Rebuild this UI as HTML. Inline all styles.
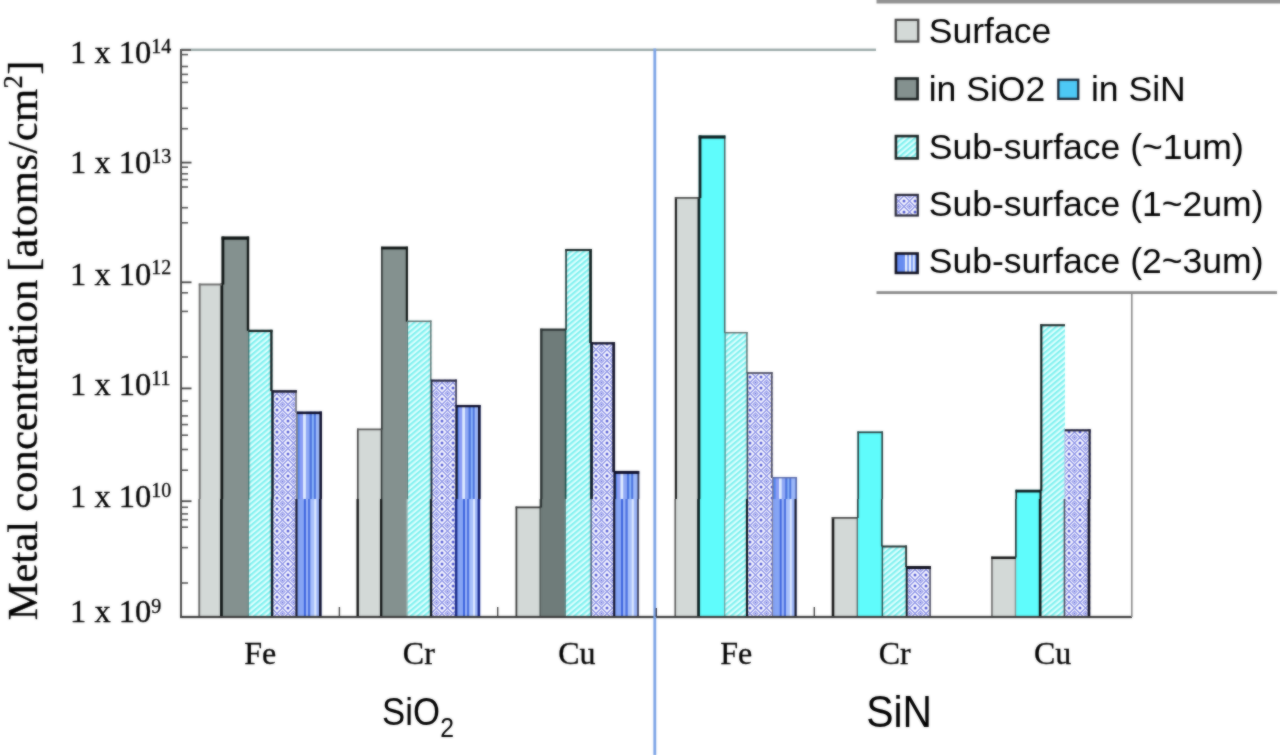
<!DOCTYPE html>
<html><head><meta charset="utf-8"><title>chart</title>
<style>
html,body{margin:0;padding:0;background:#fff;}
body{width:1280px;height:755px;overflow:hidden;font-family:"Liberation Sans",sans-serif;}
svg{display:block}
.ser{font-family:"Liberation Serif",serif;fill:#000;stroke:#000;stroke-width:0.3px;}
.san{font-family:"Liberation Sans",sans-serif;fill:#000;}
</style></head><body>
<svg width="1280" height="755" viewBox="0 0 1280 755">
<defs>
<pattern id="ph" width="4.2" height="4.2" patternUnits="userSpaceOnUse" patternTransform="rotate(-40)">
<rect width="4.2" height="4.2" fill="#e0ffff"/><rect width="4.2" height="2.1" fill="#7cf0ee"/></pattern>
<pattern id="pc" width="11" height="11" patternUnits="userSpaceOnUse" x="2" y="3">
<rect width="11" height="11" fill="#f7f7ff"/>
<path d="M0 5.5 L5.5 0 L11 5.5 L5.5 11 Z" fill="none" stroke="#8f96e8" stroke-width="1.3"/>
<path d="M3 5.5 L5.5 3 L8 5.5 L5.5 8 Z" fill="none" stroke="#a0a6ee" stroke-width="1.1"/>
<circle cx="0" cy="0" r="1.5" fill="#5058d4"/><circle cx="11" cy="0" r="1.5" fill="#5058d4"/><circle cx="0" cy="11" r="1.5" fill="#5058d4"/><circle cx="11" cy="11" r="1.5" fill="#5058d4"/>
<circle cx="5.5" cy="5.5" r="1" fill="#7078de"/>
</pattern>
<linearGradient id="ps" x1="0" x2="1" y1="0" y2="0">
<stop offset="0" stop-color="#5588ee"/><stop offset="0.09" stop-color="#5588ee"/>
<stop offset="0.13" stop-color="#8a9cf5"/><stop offset="0.23" stop-color="#8a9cf5"/>
<stop offset="0.27" stop-color="#e0ecff"/><stop offset="0.34" stop-color="#e0ecff"/>
<stop offset="0.38" stop-color="#8fa8f5"/><stop offset="0.49" stop-color="#8fa8f5"/>
<stop offset="0.53" stop-color="#4a72dd"/><stop offset="0.58" stop-color="#4a72dd"/>
<stop offset="0.62" stop-color="#8bb5fa"/><stop offset="0.66" stop-color="#8bb5fa"/>
<stop offset="0.70" stop-color="#4a72dd"/><stop offset="0.74" stop-color="#4a72dd"/>
<stop offset="0.78" stop-color="#9db8f8"/><stop offset="0.91" stop-color="#9db8f8"/>
<stop offset="0.95" stop-color="#5580e8"/><stop offset="1" stop-color="#5580e8"/>
</linearGradient>
<linearGradient id="ps3" x1="0" x2="1" y1="0" y2="0">
<stop offset="0" stop-color="#6288f0"/><stop offset="0.40" stop-color="#6a8ef0"/>
<stop offset="0.44" stop-color="#e8f0ff"/><stop offset="0.50" stop-color="#e8f0ff"/>
<stop offset="0.54" stop-color="#7a9af2"/><stop offset="0.58" stop-color="#7a9af2"/>
<stop offset="0.62" stop-color="#e8f0ff"/><stop offset="0.68" stop-color="#e8f0ff"/>
<stop offset="0.72" stop-color="#7a9af2"/><stop offset="0.76" stop-color="#7a9af2"/>
<stop offset="0.80" stop-color="#dce8ff"/><stop offset="0.85" stop-color="#dce8ff"/>
<stop offset="0.89" stop-color="#6a8ef0"/><stop offset="1" stop-color="#6a8ef0"/>
</linearGradient>
<linearGradient id="ps2" x1="0" x2="1" y1="0" y2="0">
<stop offset="0" stop-color="#7f9ff2"/><stop offset="0.28" stop-color="#8aa8f5"/>
<stop offset="0.31" stop-color="#3a62dd"/><stop offset="0.36" stop-color="#3a62dd"/>
<stop offset="0.39" stop-color="#9ab4f8"/><stop offset="0.45" stop-color="#9ab4f8"/>
<stop offset="0.48" stop-color="#4a70e0"/><stop offset="0.54" stop-color="#4a70e0"/>
<stop offset="0.57" stop-color="#a8c0fa"/><stop offset="0.70" stop-color="#a8c0fa"/>
<stop offset="0.73" stop-color="#dce8ff"/><stop offset="0.78" stop-color="#dce8ff"/>
<stop offset="0.81" stop-color="#a0b8f8"/><stop offset="1" stop-color="#90acf6"/>
</linearGradient>
<filter id="bl" x="0" y="0" width="1280" height="755" filterUnits="userSpaceOnUse" color-interpolation-filters="sRGB"><feGaussianBlur stdDeviation="0.9" result="b"/><feComposite in="b" in2="SourceGraphic" operator="arithmetic" k1="0" k2="0.55" k3="0.45" k4="0"/></filter>
<clipPath id="cu"><rect x="0" y="0" width="1280" height="499"/></clipPath>
<clipPath id="cl"><rect x="0" y="499" width="1280" height="118.5"/></clipPath>
</defs>
<g filter="url(#bl)">
<rect width="1280" height="755" fill="#ffffff"/>

<rect x="181" y="48.6" width="695" height="2.4" fill="#9aa9a8"/>
<g clip-path="url(#cu)"><rect x="198.80" y="283.60" width="23.20" height="333.40" fill="#d3d9d7"/>
<rect x="221.60" y="236.60" width="27.50" height="380.40" fill="#84918f"/>
<rect x="248.40" y="329.80" width="24.10" height="287.20" fill="url(#ph)"/>
<rect x="272.40" y="390.20" width="24.50" height="226.80" fill="url(#pc)"/>
<rect x="296.80" y="411.60" width="25.10" height="205.40" fill="url(#ps)"/>
<rect x="357.00" y="428.60" width="25.00" height="188.40" fill="#d3d9d7"/>
<rect x="381.10" y="246.70" width="26.80" height="370.30" fill="#84918f"/>
<rect x="407.20" y="320.60" width="24.30" height="296.40" fill="url(#ph)"/>
<rect x="431.40" y="379.60" width="25.40" height="237.40" fill="url(#pc)"/>
<rect x="456.20" y="405.00" width="24.30" height="212.00" fill="url(#ps)"/>
<rect x="516.00" y="506.60" width="25.00" height="110.40" fill="#d3d9d7"/>
<rect x="540.20" y="328.70" width="25.80" height="288.30" fill="#6f7c7a"/>
<rect x="565.30" y="249.00" width="26.50" height="368.00" fill="url(#ph)"/>
<rect x="591.20" y="342.20" width="23.80" height="274.80" fill="url(#pc)"/>
<rect x="614.20" y="471.00" width="25.00" height="146.00" fill="url(#ps)"/>
<rect x="674.90" y="197.10" width="24.30" height="419.90" fill="#d3d9d7"/>
<rect x="698.70" y="135.50" width="26.70" height="481.50" fill="#5ffcfc"/>
<rect x="724.80" y="332.00" width="22.80" height="285.00" fill="url(#ph)"/>
<rect x="747.20" y="372.20" width="25.40" height="244.80" fill="url(#pc)"/>
<rect x="773.00" y="477.00" width="24.00" height="140.00" fill="url(#ps)"/>
<rect x="832.20" y="517.00" width="25.80" height="100.00" fill="#d3d9d7"/>
<rect x="857.40" y="431.50" width="25.60" height="185.50" fill="#5ffcfc"/>
<rect x="882.50" y="545.60" width="24.90" height="71.40" fill="url(#ph)"/>
<rect x="906.80" y="566.00" width="24.50" height="51.00" fill="url(#pc)"/>
<rect x="991.60" y="556.60" width="24.60" height="60.40" fill="#d3d9d7"/>
<rect x="1015.50" y="489.80" width="25.30" height="127.20" fill="#5ffcfc"/>
<rect x="1040.30" y="324.20" width="24.70" height="292.80" fill="url(#ph)"/>
<rect x="1064.70" y="429.30" width="25.90" height="187.70" fill="url(#pc)"/>
<path d="M199.70 283.60L199.70 617.00" stroke="#707070" stroke-width="1.91" fill="none"/>
<path d="M221.80 283.60L221.80 617.00" stroke="#0e1413" stroke-width="2.76" fill="none"/>
<path d="M198.80 284.50L222.00 284.50" stroke="#707070" stroke-width="1.91" fill="none"/>
<path d="M222.90 236.60L222.90 284.60" stroke="#0e1413" stroke-width="2.76" fill="none"/>
<path d="M248.00 236.60L248.00 330.80" stroke="#0e1413" stroke-width="2.33" fill="none"/>
<path d="M248.75 329.80L248.75 617.00" stroke="#3a6a66" stroke-width="1.27" fill="none"/>
<path d="M221.60 238.10L249.10 238.10" stroke="#0e1413" stroke-width="3.18" fill="none"/>
<path d="M271.40 329.80L271.40 391.20" stroke="#10181a" stroke-width="2.33" fill="none"/>
<path d="M272.45 390.20L272.45 617.00" stroke="#0a1420" stroke-width="2.44" fill="none"/>
<path d="M248.40 330.90L272.50 330.90" stroke="#16201f" stroke-width="2.33" fill="none"/>
<path d="M296.00 390.20L296.00 412.60" stroke="#808088" stroke-width="1.91" fill="none"/>
<path d="M296.85 411.60L296.85 617.00" stroke="#808088" stroke-width="1.91" fill="none"/>
<path d="M272.40 391.40L296.90 391.40" stroke="#1a1a2e" stroke-width="2.54" fill="none"/>
<path d="M320.70 411.60L320.70 617.00" stroke="#0c0c28" stroke-width="2.54" fill="none"/>
<path d="M296.80 412.80L321.90 412.80" stroke="#0c0c28" stroke-width="2.54" fill="none"/>
<path d="M357.80 428.60L357.80 617.00" stroke="#444" stroke-width="1.7" fill="none"/>
<path d="M381.55 428.60L381.55 617.00" stroke="#2a3030" stroke-width="1.59" fill="none"/>
<path d="M357.00 429.40L382.00 429.40" stroke="#5a5a5a" stroke-width="1.7" fill="none"/>
<path d="M381.85 246.70L381.85 429.60" stroke="#2a3030" stroke-width="1.59" fill="none"/>
<path d="M406.90 246.70L406.90 321.60" stroke="#0e1413" stroke-width="2.12" fill="none"/>
<path d="M407.55 320.60L407.55 617.00" stroke="#5a7a78" stroke-width="1.06" fill="none"/>
<path d="M381.10 248.00L407.90 248.00" stroke="#0e1413" stroke-width="2.76" fill="none"/>
<path d="M430.80 320.60L430.80 380.60" stroke="#62706f" stroke-width="1.48" fill="none"/>
<path d="M431.45 379.60L431.45 617.00" stroke="#1a2430" stroke-width="1.91" fill="none"/>
<path d="M407.20 321.30L431.50 321.30" stroke="#62706f" stroke-width="1.48" fill="none"/>
<path d="M456.05 379.60L456.05 406.00" stroke="#30304a" stroke-width="1.59" fill="none"/>
<path d="M456.50 405.00L456.50 617.00" stroke="#101028" stroke-width="2.33" fill="none"/>
<path d="M431.40 380.60L456.80 380.60" stroke="#22223a" stroke-width="2.12" fill="none"/>
<path d="M479.30 405.00L479.30 617.00" stroke="#0c0c28" stroke-width="2.54" fill="none"/>
<path d="M456.20 406.10L480.50 406.10" stroke="#0c0c28" stroke-width="2.33" fill="none"/>
<path d="M516.80 506.60L516.80 617.00" stroke="#383838" stroke-width="1.7" fill="none"/>
<path d="M540.60 506.60L540.60 617.00" stroke="#2a3232" stroke-width="2.33" fill="none"/>
<path d="M516.00 507.40L541.00 507.40" stroke="#383838" stroke-width="1.7" fill="none"/>
<path d="M541.30 328.70L541.30 507.60" stroke="#2a3232" stroke-width="2.33" fill="none"/>
<path d="M565.65 328.70L565.65 617.00" stroke="#1a4a46" stroke-width="1.59" fill="none"/>
<path d="M540.20 329.70L566.00 329.70" stroke="#2a3232" stroke-width="2.12" fill="none"/>
<path d="M566.05 249.00L566.05 329.70" stroke="#1a3030" stroke-width="1.59" fill="none"/>
<path d="M590.55 249.00L590.55 343.20" stroke="#0a1616" stroke-width="2.65" fill="none"/>
<path d="M591.50 342.20L591.50 617.00" stroke="#0a1420" stroke-width="2.76" fill="none"/>
<path d="M565.30 250.00L591.80 250.00" stroke="#1a2626" stroke-width="2.12" fill="none"/>
<path d="M613.70 342.20L613.70 472.00" stroke="#14142a" stroke-width="2.76" fill="none"/>
<path d="M614.60 471.00L614.60 617.00" stroke="#101028" stroke-width="2.33" fill="none"/>
<path d="M591.20 343.30L615.00 343.30" stroke="#14142a" stroke-width="2.33" fill="none"/>
<path d="M638.40 471.00L638.40 617.00" stroke="#3a3a50" stroke-width="1.7" fill="none"/>
<path d="M614.20 472.40L639.20 472.40" stroke="#0c0c28" stroke-width="2.97" fill="none"/>
<path d="M675.90 197.10L675.90 617.00" stroke="#181818" stroke-width="2.12" fill="none"/>
<path d="M698.95 197.10L698.95 617.00" stroke="#0c1c1e" stroke-width="2.76" fill="none"/>
<path d="M674.90 197.90L699.20 197.90" stroke="#4a4a4a" stroke-width="1.7" fill="none"/>
<path d="M700.00 135.50L700.00 198.10" stroke="#0c1c1e" stroke-width="2.76" fill="none"/>
<path d="M724.70 135.50L724.70 333.00" stroke="#4a6264" stroke-width="1.48" fill="none"/>
<path d="M725.10 332.00L725.10 617.00" stroke="#4a8a8a" stroke-width="1.27" fill="none"/>
<path d="M698.70 137.00L725.40 137.00" stroke="#0c1c1e" stroke-width="3.18" fill="none"/>
<path d="M746.90 332.00L746.90 373.20" stroke="#62706f" stroke-width="1.48" fill="none"/>
<path d="M747.40 372.20L747.40 617.00" stroke="#3a4452" stroke-width="1.59" fill="none"/>
<path d="M724.80 332.70L747.60 332.70" stroke="#62706f" stroke-width="1.48" fill="none"/>
<path d="M771.80 372.20L771.80 478.00" stroke="#4a4a5a" stroke-width="1.7" fill="none"/>
<path d="M772.80 477.00L772.80 617.00" stroke="#6a6a8a" stroke-width="1.27" fill="none"/>
<path d="M747.20 373.00L772.60 373.00" stroke="#4a4a5a" stroke-width="1.7" fill="none"/>
<path d="M796.30 477.00L796.30 617.00" stroke="#5a6aa8" stroke-width="1.48" fill="none"/>
<path d="M773.00 477.70L797.00 477.70" stroke="#5a6aa8" stroke-width="1.48" fill="none"/>
<path d="M833.40 517.00L833.40 617.00" stroke="#141414" stroke-width="2.54" fill="none"/>
<path d="M857.70 517.00L857.70 617.00" stroke="#5a6a6a" stroke-width="1.38" fill="none"/>
<path d="M832.20 517.90L858.00 517.90" stroke="#4a4a4a" stroke-width="1.91" fill="none"/>
<path d="M858.20 431.50L858.20 518.00" stroke="#2a3e40" stroke-width="1.7" fill="none"/>
<path d="M882.20 431.50L882.20 546.60" stroke="#2a3e40" stroke-width="1.7" fill="none"/>
<path d="M882.75 545.60L882.75 617.00" stroke="#2a4a4a" stroke-width="1.48" fill="none"/>
<path d="M857.40 432.30L883.00 432.30" stroke="#2a3e40" stroke-width="1.7" fill="none"/>
<path d="M906.50 545.60L906.50 567.00" stroke="#26302f" stroke-width="1.91" fill="none"/>
<path d="M907.10 566.00L907.10 617.00" stroke="#10141c" stroke-width="1.91" fill="none"/>
<path d="M882.50 546.50L907.40 546.50" stroke="#2a3434" stroke-width="1.91" fill="none"/>
<path d="M930.50 566.00L930.50 617.00" stroke="#5a5a6a" stroke-width="1.7" fill="none"/>
<path d="M906.80 567.40L931.30 567.40" stroke="#10101e" stroke-width="2.97" fill="none"/>
<path d="M992.35 556.60L992.35 617.00" stroke="#6a6a6a" stroke-width="1.59" fill="none"/>
<path d="M1015.85 556.60L1015.85 617.00" stroke="#8a9090" stroke-width="1.38" fill="none"/>
<path d="M991.60 557.80L1016.20 557.80" stroke="#141414" stroke-width="2.54" fill="none"/>
<path d="M1016.25 489.80L1016.25 557.60" stroke="#1c2c2e" stroke-width="1.59" fill="none"/>
<path d="M1040.55 489.80L1040.55 617.00" stroke="#0c1414" stroke-width="2.12" fill="none"/>
<path d="M1015.50 491.10L1040.80 491.10" stroke="#0c1c1e" stroke-width="2.76" fill="none"/>
<path d="M1041.30 324.20L1041.30 490.80" stroke="#0c1414" stroke-width="2.12" fill="none"/>
<path d="M1064.85 429.30L1064.85 617.00" stroke="#b0c0e0" stroke-width="0.85" fill="none"/>
<path d="M1040.30 325.20L1065.00 325.20" stroke="#222c2c" stroke-width="2.12" fill="none"/>
<path d="M1089.60 429.30L1089.60 617.00" stroke="#16162a" stroke-width="2.12" fill="none"/>
<path d="M1064.70 430.30L1090.60 430.30" stroke="#1c1c30" stroke-width="2.12" fill="none"/></g>
<g clip-path="url(#cl)"><rect x="198.40" y="283.60" width="23.20" height="333.40" fill="#d3d9d7"/>
<rect x="221.20" y="236.60" width="27.50" height="380.40" fill="#84918f"/>
<rect x="248.00" y="329.80" width="24.10" height="287.20" fill="url(#ph)"/>
<rect x="272.00" y="390.20" width="24.50" height="226.80" fill="url(#pc)"/>
<rect x="296.40" y="411.60" width="25.10" height="205.40" fill="url(#ps2)"/>
<rect x="356.60" y="428.60" width="25.00" height="188.40" fill="#d3d9d7"/>
<rect x="380.70" y="246.70" width="26.80" height="370.30" fill="#84918f"/>
<rect x="406.80" y="320.60" width="24.30" height="296.40" fill="url(#ph)"/>
<rect x="431.00" y="379.60" width="25.40" height="237.40" fill="url(#pc)"/>
<rect x="455.80" y="405.00" width="24.30" height="212.00" fill="url(#ps2)"/>
<rect x="515.60" y="506.60" width="25.00" height="110.40" fill="#d3d9d7"/>
<rect x="539.80" y="328.70" width="25.80" height="288.30" fill="#6f7c7a"/>
<rect x="564.90" y="249.00" width="26.50" height="368.00" fill="url(#ph)"/>
<rect x="590.80" y="342.20" width="23.80" height="274.80" fill="url(#pc)"/>
<rect x="613.80" y="471.00" width="25.00" height="146.00" fill="url(#ps2)"/>
<rect x="674.50" y="197.10" width="24.30" height="419.90" fill="#d3d9d7"/>
<rect x="698.30" y="135.50" width="26.70" height="481.50" fill="#5ffcfc"/>
<rect x="724.40" y="332.00" width="22.80" height="285.00" fill="url(#ph)"/>
<rect x="746.80" y="372.20" width="25.40" height="244.80" fill="url(#pc)"/>
<rect x="772.60" y="477.00" width="24.00" height="140.00" fill="url(#ps2)"/>
<rect x="831.80" y="517.00" width="25.80" height="100.00" fill="#d3d9d7"/>
<rect x="857.00" y="431.50" width="25.60" height="185.50" fill="#5ffcfc"/>
<rect x="882.10" y="545.60" width="24.90" height="71.40" fill="url(#ph)"/>
<rect x="906.40" y="566.00" width="24.50" height="51.00" fill="url(#pc)"/>
<rect x="991.20" y="556.60" width="24.60" height="60.40" fill="#d3d9d7"/>
<rect x="1015.10" y="489.80" width="25.30" height="127.20" fill="#5ffcfc"/>
<rect x="1039.90" y="324.20" width="24.70" height="292.80" fill="url(#ph)"/>
<rect x="1064.30" y="429.30" width="25.90" height="187.70" fill="url(#pc)"/>
<path d="M199.25 283.60L199.25 617.00" stroke="#666" stroke-width="1.8" fill="none"/>
<path d="M221.40 283.60L221.40 617.00" stroke="#0e1413" stroke-width="2.76" fill="none"/>
<path d="M198.40 284.50L221.60 284.50" stroke="#707070" stroke-width="1.91" fill="none"/>
<path d="M222.50 236.60L222.50 284.60" stroke="#0e1413" stroke-width="2.76" fill="none"/>
<path d="M247.60 236.60L247.60 330.80" stroke="#0e1413" stroke-width="2.33" fill="none"/>
<path d="M248.35 329.80L248.35 617.00" stroke="#5a7a78" stroke-width="1.06" fill="none"/>
<path d="M221.20 238.10L248.70 238.10" stroke="#0e1413" stroke-width="3.18" fill="none"/>
<path d="M271.00 329.80L271.00 391.20" stroke="#10181a" stroke-width="2.33" fill="none"/>
<path d="M272.05 390.20L272.05 617.00" stroke="#0a1420" stroke-width="2.44" fill="none"/>
<path d="M248.00 330.90L272.10 330.90" stroke="#16201f" stroke-width="2.33" fill="none"/>
<path d="M295.60 390.20L295.60 412.60" stroke="#808088" stroke-width="1.91" fill="none"/>
<path d="M296.45 411.60L296.45 617.00" stroke="#15152a" stroke-width="2.12" fill="none"/>
<path d="M272.00 391.40L296.50 391.40" stroke="#1a1a2e" stroke-width="2.54" fill="none"/>
<path d="M320.30 411.60L320.30 617.00" stroke="#0c0c28" stroke-width="2.54" fill="none"/>
<path d="M296.40 412.80L321.50 412.80" stroke="#0c0c28" stroke-width="2.54" fill="none"/>
<path d="M357.70 428.60L357.70 617.00" stroke="#101010" stroke-width="2.33" fill="none"/>
<path d="M381.15 428.60L381.15 617.00" stroke="#101414" stroke-width="2.33" fill="none"/>
<path d="M356.60 429.40L381.60 429.40" stroke="#5a5a5a" stroke-width="1.7" fill="none"/>
<path d="M381.45 246.70L381.45 429.60" stroke="#2a3030" stroke-width="1.59" fill="none"/>
<path d="M406.50 246.70L406.50 321.60" stroke="#0e1413" stroke-width="2.12" fill="none"/>
<path d="M407.15 320.60L407.15 617.00" stroke="#9ab0ae" stroke-width="1.06" fill="none"/>
<path d="M380.70 248.00L407.50 248.00" stroke="#0e1413" stroke-width="2.76" fill="none"/>
<path d="M430.40 320.60L430.40 380.60" stroke="#62706f" stroke-width="1.48" fill="none"/>
<path d="M431.05 379.60L431.05 617.00" stroke="#0a1018" stroke-width="2.33" fill="none"/>
<path d="M406.80 321.30L431.10 321.30" stroke="#62706f" stroke-width="1.48" fill="none"/>
<path d="M455.65 379.60L455.65 406.00" stroke="#30304a" stroke-width="1.59" fill="none"/>
<path d="M456.10 405.00L456.10 617.00" stroke="#1a2a88" stroke-width="2.54" fill="none"/>
<path d="M431.00 380.60L456.40 380.60" stroke="#22223a" stroke-width="2.12" fill="none"/>
<path d="M478.90 405.00L478.90 617.00" stroke="#14248a" stroke-width="2.54" fill="none"/>
<path d="M455.80 406.10L480.10 406.10" stroke="#0c0c28" stroke-width="2.33" fill="none"/>
<path d="M516.40 506.60L516.40 617.00" stroke="#383838" stroke-width="1.7" fill="none"/>
<path d="M540.20 506.60L540.20 617.00" stroke="#4a5452" stroke-width="1.27" fill="none"/>
<path d="M515.60 507.40L540.60 507.40" stroke="#383838" stroke-width="1.7" fill="none"/>
<path d="M540.90 328.70L540.90 507.60" stroke="#2a3232" stroke-width="2.33" fill="none"/>
<path d="M565.25 328.70L565.25 617.00" stroke="#4a6a68" stroke-width="1.06" fill="none"/>
<path d="M539.80 329.70L565.60 329.70" stroke="#2a3232" stroke-width="2.12" fill="none"/>
<path d="M565.65 249.00L565.65 329.70" stroke="#1a3030" stroke-width="1.59" fill="none"/>
<path d="M590.15 249.00L590.15 343.20" stroke="#0a1616" stroke-width="2.65" fill="none"/>
<path d="M591.10 342.20L591.10 617.00" stroke="#3a4a5a" stroke-width="1.27" fill="none"/>
<path d="M564.90 250.00L591.40 250.00" stroke="#1a2626" stroke-width="2.12" fill="none"/>
<path d="M613.30 342.20L613.30 472.00" stroke="#14142a" stroke-width="2.76" fill="none"/>
<path d="M614.20 471.00L614.20 617.00" stroke="#101028" stroke-width="2.12" fill="none"/>
<path d="M590.80 343.30L614.60 343.30" stroke="#14142a" stroke-width="2.33" fill="none"/>
<path d="M638.00 471.00L638.00 617.00" stroke="#3a3a50" stroke-width="1.7" fill="none"/>
<path d="M613.80 472.40L638.80 472.40" stroke="#0c0c28" stroke-width="2.97" fill="none"/>
<path d="M675.25 197.10L675.25 617.00" stroke="#5a5a5a" stroke-width="1.59" fill="none"/>
<path d="M698.55 197.10L698.55 617.00" stroke="#0c1c1e" stroke-width="2.76" fill="none"/>
<path d="M674.50 197.90L698.80 197.90" stroke="#4a4a4a" stroke-width="1.7" fill="none"/>
<path d="M699.60 135.50L699.60 198.10" stroke="#0c1c1e" stroke-width="2.76" fill="none"/>
<path d="M724.30 135.50L724.30 333.00" stroke="#4a6264" stroke-width="1.48" fill="none"/>
<path d="M724.70 332.00L724.70 617.00" stroke="#6a9a9a" stroke-width="1.27" fill="none"/>
<path d="M698.30 137.00L725.00 137.00" stroke="#0c1c1e" stroke-width="3.18" fill="none"/>
<path d="M746.50 332.00L746.50 373.20" stroke="#62706f" stroke-width="1.48" fill="none"/>
<path d="M747.00 372.20L747.00 617.00" stroke="#0a1018" stroke-width="2.12" fill="none"/>
<path d="M724.40 332.70L747.20 332.70" stroke="#62706f" stroke-width="1.48" fill="none"/>
<path d="M771.40 372.20L771.40 478.00" stroke="#4a4a5a" stroke-width="1.7" fill="none"/>
<path d="M772.40 477.00L772.40 617.00" stroke="#7a7a9a" stroke-width="1.27" fill="none"/>
<path d="M746.80 373.00L772.20 373.00" stroke="#4a4a5a" stroke-width="1.7" fill="none"/>
<path d="M795.60 477.00L795.60 617.00" stroke="#101020" stroke-width="2.12" fill="none"/>
<path d="M772.60 477.70L796.60 477.70" stroke="#5a6aa8" stroke-width="1.48" fill="none"/>
<path d="M833.00 517.00L833.00 617.00" stroke="#141414" stroke-width="2.54" fill="none"/>
<path d="M857.30 517.00L857.30 617.00" stroke="#5a6a6a" stroke-width="1.38" fill="none"/>
<path d="M831.80 517.90L857.60 517.90" stroke="#4a4a4a" stroke-width="1.91" fill="none"/>
<path d="M857.80 431.50L857.80 518.00" stroke="#2a3e40" stroke-width="1.7" fill="none"/>
<path d="M881.80 431.50L881.80 546.60" stroke="#2a3e40" stroke-width="1.7" fill="none"/>
<path d="M882.35 545.60L882.35 617.00" stroke="#2a4a4a" stroke-width="1.48" fill="none"/>
<path d="M857.00 432.30L882.60 432.30" stroke="#2a3e40" stroke-width="1.7" fill="none"/>
<path d="M906.10 545.60L906.10 567.00" stroke="#26302f" stroke-width="1.91" fill="none"/>
<path d="M906.70 566.00L906.70 617.00" stroke="#10141c" stroke-width="1.91" fill="none"/>
<path d="M882.10 546.50L907.00 546.50" stroke="#2a3434" stroke-width="1.91" fill="none"/>
<path d="M930.10 566.00L930.10 617.00" stroke="#5a5a6a" stroke-width="1.7" fill="none"/>
<path d="M906.40 567.40L930.90 567.40" stroke="#10101e" stroke-width="2.97" fill="none"/>
<path d="M991.95 556.60L991.95 617.00" stroke="#6a6a6a" stroke-width="1.59" fill="none"/>
<path d="M1015.45 556.60L1015.45 617.00" stroke="#8a9090" stroke-width="1.38" fill="none"/>
<path d="M991.20 557.80L1015.80 557.80" stroke="#141414" stroke-width="2.54" fill="none"/>
<path d="M1015.85 489.80L1015.85 557.60" stroke="#1c2c2e" stroke-width="1.59" fill="none"/>
<path d="M1040.15 489.80L1040.15 617.00" stroke="#0a1212" stroke-width="2.65" fill="none"/>
<path d="M1015.10 491.10L1040.40 491.10" stroke="#0c1c1e" stroke-width="2.76" fill="none"/>
<path d="M1040.90 324.20L1040.90 490.80" stroke="#0c1414" stroke-width="2.12" fill="none"/>
<path d="M1064.45 429.30L1064.45 617.00" stroke="#4a4a5a" stroke-width="1.59" fill="none"/>
<path d="M1039.90 325.20L1064.60 325.20" stroke="#222c2c" stroke-width="2.12" fill="none"/>
<path d="M1088.95 429.30L1088.95 617.00" stroke="#101020" stroke-width="2.65" fill="none"/>
<path d="M1064.30 430.30L1090.20 430.30" stroke="#1c1c30" stroke-width="2.12" fill="none"/></g>
<rect x="180" y="49" width="2" height="569" fill="#4a4a4a"/>
<rect x="180" y="615.9" width="952" height="2.2" fill="#3c3c3c"/>
<rect x="1131" y="293" width="1.6" height="324" fill="#8a8a8a"/>
<rect x="181" y="53.8" width="7" height="1.6" fill="#555"/>
<rect x="181" y="65.7" width="7" height="1.6" fill="#555"/>
<rect x="181" y="73.6" width="7" height="1.6" fill="#555"/>
<rect x="181" y="81.6" width="7" height="1.6" fill="#555"/>
<rect x="181" y="107.5" width="7" height="1.6" fill="#555"/>
<rect x="181" y="127.9" width="7" height="1.6" fill="#555"/>
<rect x="181" y="166.4" width="7" height="1.6" fill="#555"/>
<rect x="181" y="173.0" width="7" height="1.6" fill="#555"/>
<rect x="181" y="178.8" width="7" height="1.6" fill="#555"/>
<rect x="181" y="186.2" width="7" height="1.6" fill="#555"/>
<rect x="181" y="206.9" width="7" height="1.6" fill="#555"/>
<rect x="181" y="222.0" width="7" height="1.6" fill="#555"/>
<rect x="181" y="292.0" width="7" height="1.6" fill="#555"/>
<rect x="181" y="310.6" width="7" height="1.6" fill="#555"/>
<rect x="181" y="356.2" width="7" height="1.6" fill="#555"/>
<rect x="181" y="400.1" width="7" height="1.6" fill="#555"/>
<rect x="181" y="415.1" width="7" height="1.6" fill="#555"/>
<rect x="181" y="423.8" width="7" height="1.6" fill="#555"/>
<rect x="181" y="434.4" width="7" height="1.6" fill="#555"/>
<rect x="181" y="448.7" width="7" height="1.6" fill="#555"/>
<rect x="181" y="469.4" width="7" height="1.6" fill="#555"/>
<rect x="181" y="506.5" width="7" height="1.6" fill="#555"/>
<rect x="181" y="513.1" width="7" height="1.6" fill="#555"/>
<rect x="181" y="518.9" width="7" height="1.6" fill="#555"/>
<rect x="181" y="526.4" width="7" height="1.6" fill="#555"/>
<rect x="181" y="546.8" width="7" height="1.6" fill="#555"/>
<rect x="181" y="582.2" width="7" height="1.6" fill="#555"/>
<rect x="181" y="161.7" width="10.5" height="1.8" fill="#444"/>
<rect x="181" y="281.4" width="10.5" height="1.8" fill="#444"/>
<rect x="181" y="387.5" width="10.5" height="1.8" fill="#444"/>
<rect x="181" y="500.3" width="10.5" height="1.8" fill="#444"/>
<rect x="181" y="49" width="10" height="2" fill="#555"/>
<rect x="338.7" y="607" width="1.4" height="10" fill="#444"/>
<rect x="497.0" y="607" width="1.4" height="10" fill="#444"/>
<rect x="813.6" y="607" width="1.4" height="10" fill="#444"/>
<rect x="653.4" y="48.5" width="2.8" height="707" fill="#7aa2e6"/>
<rect x="655.6" y="608" width="1.4" height="9" fill="#3a3a4a"/>
<rect x="876" y="0" width="404" height="292" fill="#ffffff"/>
<rect x="876.5" y="-3" width="410" height="6.5" fill="#939393"/>
<rect x="876.5" y="291.2" width="400.5" height="2.8" fill="#8a8a8a"/>
<rect x="895.75" y="19.85" width="22.50" height="21.70" fill="#d3d9d7" stroke="#4a4a4a" stroke-width="2.3"/>
<rect x="895.90" y="78.50" width="21.70" height="20.60" fill="#84918f" stroke="#1c2222" stroke-width="2.6"/>
<rect x="1058.35" y="79.75" width="19.90" height="19.10" fill="#4dc8f5" stroke="#1c2a3a" stroke-width="2.3"/>
<rect x="895.90" y="136.10" width="21.70" height="22.30" fill="url(#ph)" stroke="#1a2424" stroke-width="2.6"/>
<rect x="895.70" y="194.90" width="22.10" height="20.60" fill="url(#pc)" stroke="#2a2a3a" stroke-width="2.2"/>
<rect x="895.90" y="253.50" width="21.70" height="19.40" fill="url(#ps3)" stroke="#101020" stroke-width="2.6"/>
<text class="san" x="928.7" y="42.7" font-size="35.55">Surface</text>
<text class="san" x="928.7" y="100.5" font-size="35.55">in SiO2</text>
<text class="san" x="1090.8999999999999" y="100.5" font-size="35.55">in SiN</text>
<text class="san" x="928.7" y="158.5" font-size="35.55">Sub-surface (~1um)</text>
<text class="san" x="928.7" y="215.8" font-size="35.55">Sub-surface (1~2um)</text>
<text class="san" x="928.7" y="273" font-size="35.55">Sub-surface (2~3um)</text>
<text class="ser" x="70" y="63.3" font-size="32.5">1 x 10<tspan font-size="20" dy="-10.2">14</tspan></text>
<text class="ser" x="70" y="172.9" font-size="32.5">1 x 10<tspan font-size="20" dy="-10.2">13</tspan></text>
<text class="ser" x="70" y="284.6" font-size="32.5">1 x 10<tspan font-size="20" dy="-10.2">12</tspan></text>
<text class="ser" x="70" y="394.8" font-size="32.5">1 x 10<tspan font-size="20" dy="-10.2">11</tspan></text>
<text class="ser" x="70" y="507.4" font-size="32.5">1 x 10<tspan font-size="20" dy="-10.2">10</tspan></text>
<text class="ser" x="70" y="621.5" font-size="32.5">1 x 10<tspan font-size="20" dy="-8.8">9</tspan></text>
<text class="ser" font-size="42.65" transform="translate(36.6,620.3) rotate(-90)">Metal<tspan dx="-1.5"> concentration</tspan><tspan dx="-3.5" letter-spacing="0.4"> [atoms/cm</tspan><tspan font-size="26.5" dy="-14.5" letter-spacing="0.4">2</tspan><tspan dy="14.5">]</tspan></text>
<text class="ser" x="244.3" y="664.3" font-size="32">Fe</text>
<text class="ser" x="402.8" y="664.3" font-size="32">Cr</text>
<text class="ser" x="558.2" y="664.3" font-size="32">Cu</text>
<text class="ser" x="720.3" y="664.3" font-size="32">Fe</text>
<text class="ser" x="878.7" y="664.3" font-size="32">Cr</text>
<text class="ser" x="1034" y="664.3" font-size="32">Cu</text>
<text class="san" font-size="38.6" transform="translate(382.0,725.2) scale(0.9,1)">SiO<tspan font-size="27.5" dy="11.4" dx="0.5">2</tspan></text>
<text class="san" font-size="43.8" transform="translate(866.2,727) scale(0.934,1)">SiN</text>
</g></svg></body></html>
